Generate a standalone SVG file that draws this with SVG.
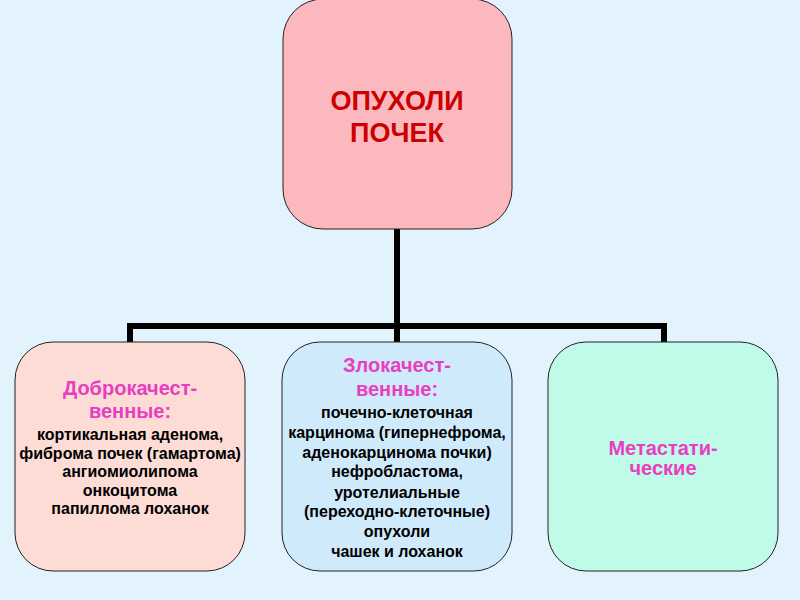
<svg xmlns="http://www.w3.org/2000/svg" width="800" height="600" viewBox="0 0 800 600">
<style>
.box{stroke:#222;stroke-width:1}
.t{font-family:"Liberation Sans",Arial,sans-serif;font-weight:bold;text-anchor:middle}
.title{font-size:27px;fill:#CC0000}
.head{font-size:20px;fill:#E83FC0}
.body{font-size:16px;fill:#000}
.conn{fill:none;stroke:#000;stroke-width:6}
</style>
<rect x="0" y="0" width="800" height="600" fill="#E3F3FD"/>
<g id="connectors">
<path class="conn" d="M397 229 V326"/>
<path class="conn" d="M130 342 V326 H664 V342"/>
<path class="conn" d="M397 326 V342"/>
</g>
<g id="root">
<rect class="box" x="283" y="-1" width="229" height="230" rx="40" fill="#FBB9BF"/>
<text class="t title" x="397" y="110">ОПУХОЛИ</text>
<text class="t title" x="397" y="142">ПОЧЕК</text>
</g>
<g id="benign">
<rect class="box" x="15" y="342" width="230" height="229" rx="38" fill="#FDDCD6"/>
<text class="t head" x="130" y="395">Доброкачест-</text>
<text class="t head" x="130" y="418">венные:</text>
<text class="t body" x="130" y="440">кортикальная аденома,</text>
<text class="t body" x="130" y="459">фиброма почек (гамартома)</text>
<text class="t body" x="130" y="477">ангиомиолипома</text>
<text class="t body" x="130" y="496">онкоцитома</text>
<text class="t body" x="130" y="514">папиллома лоханок</text>
</g>
<g id="malignant">
<rect class="box" x="282" y="342" width="230" height="229" rx="38" fill="#CFEAFB"/>
<text class="t head" x="397" y="372">Злокачест-</text>
<text class="t head" x="397" y="396">венные:</text>
<text class="t body" x="397" y="418">почечно-клеточная</text>
<text class="t body" x="397" y="438">карцинома (гипернефрома,</text>
<text class="t body" x="397" y="458">аденокарцинома почки)</text>
<text class="t body" x="397" y="477">нефробластома,</text>
<text class="t body" x="397" y="498">уротелиальные</text>
<text class="t body" x="397" y="517">(переходно-клеточные)</text>
<text class="t body" x="397" y="537">опухоли</text>
<text class="t body" x="397" y="557">чашек и лоханок</text>
</g>
<g id="metastatic">
<rect class="box" x="548" y="342" width="230" height="229" rx="38" fill="#C0FAE8"/>
<text class="t head" x="663" y="455">Метастати-</text>
<text class="t head" x="663" y="475">ческие</text>
</g>
</svg>
